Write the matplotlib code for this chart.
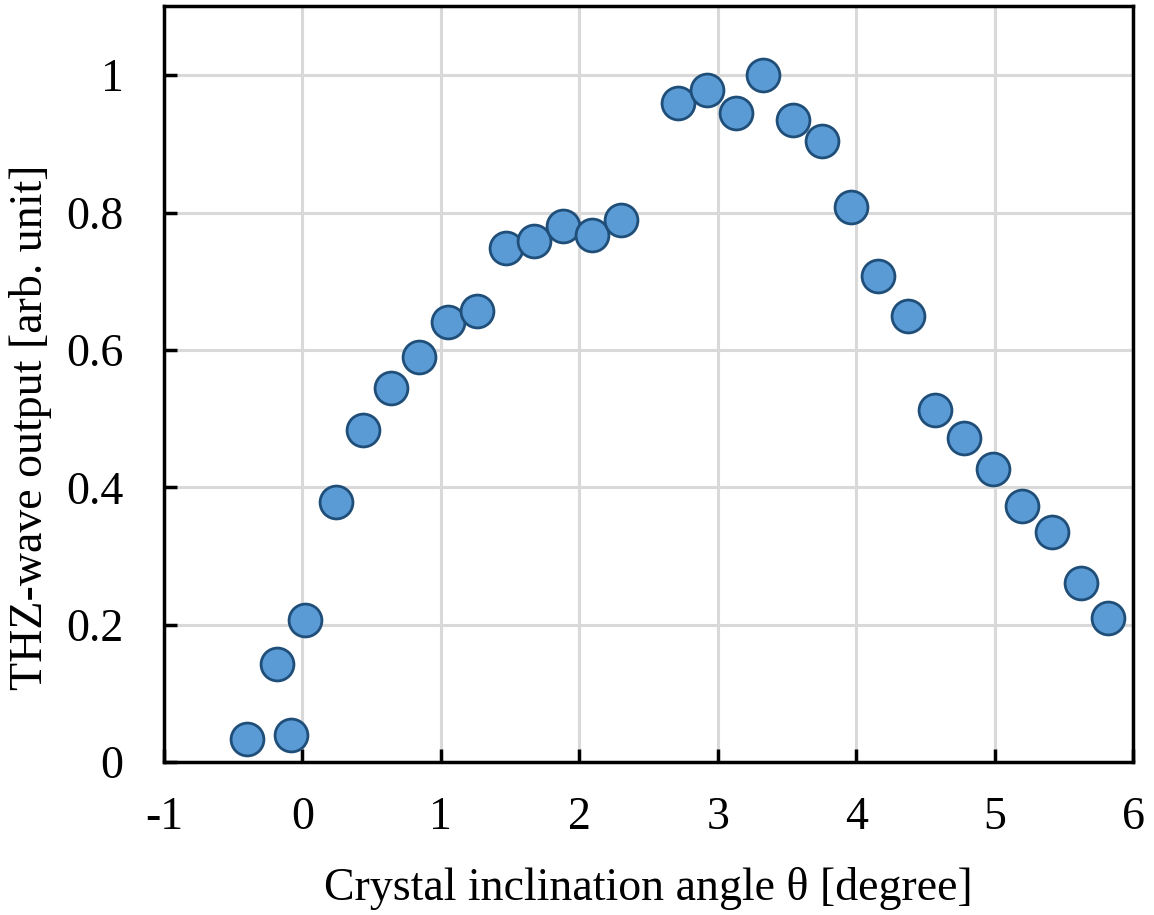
import matplotlib
matplotlib.use("Agg")
from matplotlib import pyplot as plt

# crystal inclination angle [degree]
angle = [-0.40, -0.18, -0.08, 0.02, 0.24, 0.44, 0.64, 0.84, 1.05, 1.26,
         1.47, 1.67, 1.88, 2.09, 2.30, 2.71, 2.92, 3.13, 3.33, 3.54,
         3.75, 3.96, 4.16, 4.37, 4.57, 4.78, 4.99, 5.20, 5.41, 5.62, 5.82]
# THz-wave output [arb. unit]
output = [0.034, 0.143, 0.039, 0.207, 0.378, 0.483, 0.544, 0.590, 0.641, 0.657,
          0.749, 0.758, 0.781, 0.767, 0.789, 0.959, 0.978, 0.945, 1.000, 0.934,
          0.904, 0.808, 0.707, 0.650, 0.512, 0.472, 0.427, 0.373, 0.335, 0.261, 0.210]

xticks = [-1, 0, 1, 2, 3, 4, 5, 6]
yticks = [0, 0.2, 0.4, 0.6, 0.8, 1]

plt.rcParams['font.family'] = ['Liberation Serif', 'DejaVu Serif']

fig = plt.figure(figsize=(11.54, 9.15), dpi=100)
ax = fig.add_axes([0.142, 0.167, 0.840, 0.826])

ax.scatter(angle, output, s=560, facecolor='#5B9BD5', edgecolor='#1F4E79',
           linewidth=2.0, zorder=3)

ax.set_xlim(-1, 6)
ax.set_ylim(0, 1.1)
ax.set_xticks(xticks)
ax.set_xticklabels([str(t) for t in xticks])
ax.set_yticks(yticks)
ax.set_yticklabels(['0', '0.2', '0.4', '0.6', '0.8', '1'])
ax.grid(True, color='#d9d9d9', linewidth=2.2, zorder=0)
ax.set_axisbelow(True)

for s in ax.spines.values():
    s.set_linewidth(2.5)
    s.set_color('black')

ax.tick_params(direction='in', length=9.5, width=2.5, labelsize=33, pad=29)
ax.tick_params(axis='x', pad=25)

ax.set_xlabel('Crystal inclination angle θ [degree]', fontsize=33, labelpad=20)
ax.set_ylabel('THZ-wave output [arb. unit]', fontsize=33)
# label sits a bit below the middle of the axis in the original
ax.yaxis.set_label_coords(-0.115, 0.443)

fig.savefig('out.png', dpi=100)
